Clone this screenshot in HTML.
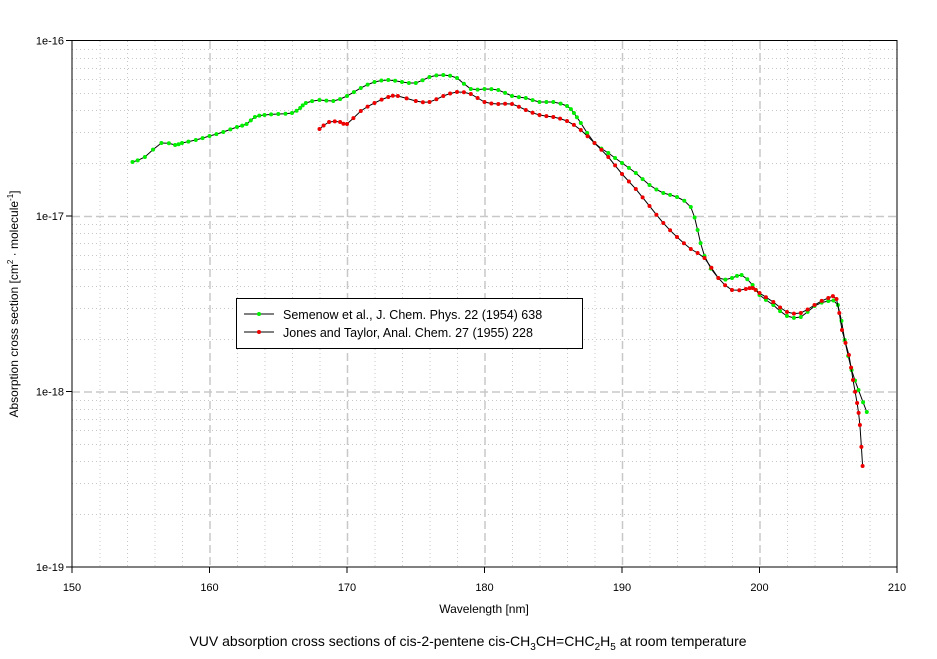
<!DOCTYPE html>
<html><head><meta charset="utf-8"><style>
body{margin:0;background:#fff;}
svg{display:block;font-family:"Liberation Sans",Arial,sans-serif;}
</style></head><body>
<svg id="s" width="937" height="659" xmlns="http://www.w3.org/2000/svg">
<defs>
<marker id="mg" markerWidth="6" markerHeight="6" refX="3" refY="3" markerUnits="userSpaceOnUse"><circle cx="3" cy="3" r="2" fill="#00ee00"/></marker>
<marker id="mr" markerWidth="6" markerHeight="6" refX="3" refY="3" markerUnits="userSpaceOnUse"><circle cx="3" cy="3" r="2" fill="#ee0000"/></marker>
</defs>
<g id="grid"></g>
<rect x="72" y="40.5" width="825" height="526.5" fill="none" stroke="#000" stroke-width="1"/>
<g id="lbl" font-size="11" fill="#000"></g>
<g id="data"></g>
<text x="484" y="613" font-size="12" text-anchor="middle">Wavelength [nm]</text>
<text transform="translate(18,304) rotate(-90)" font-size="12" text-anchor="middle">Absorption cross section [cm<tspan font-size="8" dy="-5">2</tspan><tspan dy="5"> · molecule</tspan><tspan font-size="8" dy="-5">-1</tspan><tspan dy="5">]</tspan></text>
<text x="468" y="646" font-size="14" text-anchor="middle">VUV absorption cross sections of cis-2-pentene cis-CH<tspan font-size="10" dy="4">3</tspan><tspan dy="-4">CH=CHC</tspan><tspan font-size="10" dy="4">2</tspan><tspan dy="-4">H</tspan><tspan font-size="10" dy="4">5</tspan><tspan dy="-4"> at room temperature</tspan></text>
<rect x="236.5" y="298.5" width="346" height="50" fill="#fff" stroke="#000"/>
<line x1="244" y1="314" x2="274" y2="314" stroke="#000"/><circle cx="259" cy="314" r="2" fill="#00ee00"/>
<line x1="244" y1="332" x2="274" y2="332" stroke="#000"/><circle cx="259" cy="332" r="2" fill="#ee0000"/>
<text x="283" y="319" font-size="12.5">Semenow et al., J. Chem. Phys. 22 (1954) 638</text>
<text x="283" y="337" font-size="12.5">Jones and Taylor, Anal. Chem. 27 (1955) 228</text>
</svg>
<script>
var ns="http://www.w3.org/2000/svg";
function el(p,t,a,txt){var e=document.createElementNS(ns,t);for(var k in a)e.setAttribute(k,a[k]);if(txt)e.textContent=txt;document.getElementById(p).appendChild(e);return e;}
function X(v){return 72+(v-150)*13.75;}
var D=175.5;
for(var v=152;v<210;v+=2){var x=X(v)+0.5;var maj=(v%10==0);
el("grid","line",{x1:x,y1:41,x2:x,y2:567,stroke:"#c8c8c8","stroke-dasharray":maj?"8,4":"1,3","stroke-width":maj?1.5:1});}
for(var d=0;d<3;d++){var b=216+d*D;
for(var k=2;k<=9;k++){var y=Math.round(b-Math.log10(k)*D)+0.5;el("grid","line",{x1:72,y1:y,x2:897,y2:y,stroke:"#c8c8c8","stroke-dasharray":"1,3"});}
if(d<2)el("grid","line",{x1:72,y1:b+0.5,x2:897,y2:b+0.5,stroke:"#c8c8c8","stroke-dasharray":"8,4","stroke-width":1.5});}
var yl=["1e-16","1e-17","1e-18","1e-19"];
for(var i=0;i<4;i++){var y=40.5+i*D;el("lbl","text",{x:64,y:y+4,"text-anchor":"end"},yl[i]);el("lbl","line",{x1:66,y1:y,x2:72,y2:y,stroke:"#000"});}
for(var v=150;v<=210;v+=10){var x=X(v);el("lbl","text",{x:x,y:591,"text-anchor":"middle"},""+v);el("lbl","line",{x1:x,y1:567,x2:x,y2:573,stroke:"#000"});}
var G=[[154.4,162],[155.3,157],[156.5,143],[157.5,145],[158,143],[159,140],[160,136],[161,132],[162,127],[162.7,124],[163.3,117],[164,115],[165,114],[166,113],[166.6,108],[167,103],[168,100],[169,101],[170,96],[171,88],[172,82],[173,80],[174,82],[175,83],[176,77],[177,75],[178,78],[179,89],[180,89],[181,90],[182,96],[183,98],[184,102],[185,102],[186,106],[186.5,113],[187,123],[188,143],[189,153],[190,163],[191,173],[192,185],[193,193],[194,197],[195,207],[195.5,230],[196,256],[197,278],[198,278],[198.7,275],[199.5,285],[200,295],[201,305],[202,316],[203,317],[204,306],[205,301],[205.7,305],[206.2,340],[206.7,370],[207.2,390],[207.8,412]];
var R=[[168,129],[168.7,122],[169.5,122],[170,124],[171,111],[172,103],[173,97],[173.7,96],[175,101],[176,102],[177,96],[178,92],[179,94],[180,102],[181,104],[182,104],[183,110],[184,115],[185,117],[186,121],[187,130],[188,143],[189,157],[190,174],[191,189],[192,206],[193,223],[194,237],[195,249],[196,258],[197,278],[198,290],[199,289],[199.5,288],[200,293],[201,302],[202,312],[203,313],[204,305],[205,298],[205.6,299],[206,330],[206.5,355],[206.8,380],[207.1,403],[207.3,425],[207.5,466]];
function smooth(a){var P=a.map(function(q){return [X(q[0]),q[1]];});var o=[];
for(var i=0;i<P.length-1;i++){var p0=P[Math.max(0,i-1)],p1=P[i],p2=P[i+1],p3=P[Math.min(P.length-1,i+2)];
o.push(p1);var t=0.5,t2=t*t,t3=t2*t;
function c(j){return 0.5*((2*p1[j])+(-p0[j]+p2[j])*t+(2*p0[j]-5*p1[j]+4*p2[j]-p3[j])*t2+(-p0[j]+3*p1[j]-3*p2[j]+p3[j])*t3);}
o.push([c(0),c(1)]);}
o.push(P[P.length-1]);return o;}
function pl(a,m){var p=smooth(a).map(function(q){return q[0].toFixed(1)+","+q[1].toFixed(1);}).join(" ");
el("data","polyline",{points:p,fill:"none",stroke:"#000","stroke-width":1,"marker-start":"url(#"+m+")","marker-mid":"url(#"+m+")","marker-end":"url(#"+m+")"});}
pl(G,"mg");pl(R,"mr");
</script>
</body></html>
